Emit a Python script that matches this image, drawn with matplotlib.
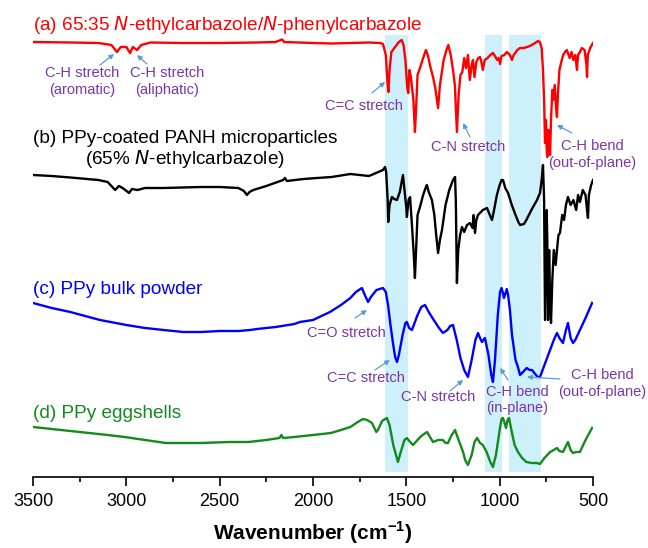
import matplotlib
matplotlib.use('Agg')
import matplotlib.pyplot as plt
from matplotlib.ticker import MultipleLocator
import numpy as np

plt.rcParams['font.family'] = ['Liberation Sans', 'DejaVu Sans']
plt.rcParams['mathtext.fontset'] = 'custom'
plt.rcParams['mathtext.rm'] = 'Liberation Sans'
plt.rcParams['mathtext.bf'] = 'Liberation Sans:bold'

# ---- spectra (wavenumber, offset intensity in a.u.) ----
wn_a = [3500, 3300, 3150, 3080, 3050, 3030, 3000, 2980, 2965, 2943, 2920, 2870, 2700, 2500, 2300,
        2200, 2165, 2155, 2000, 1900, 1800, 1700, 1640, 1625, 1610, 1600, 1596, 1590, 1580, 1560,
        1540, 1525, 1515, 1505, 1495, 1490, 1483, 1475, 1462, 1454, 1448, 1440, 1427, 1410, 1395,
        1385, 1370, 1357, 1345, 1330, 1320, 1300, 1285, 1275, 1262, 1250, 1240, 1229, 1220, 1210,
        1200, 1190, 1180, 1170, 1160, 1150, 1143, 1135, 1125, 1115, 1105, 1098, 1090, 1080, 1065,
        1050, 1036, 1025, 1014, 1005, 998, 990, 975, 961, 945, 934, 925, 905, 891, 870,
        838, 810, 795, 785, 775, 768, 762, 757, 752, 748, 745, 740, 735, 730, 725,
        718, 714, 705, 697, 693, 688, 680, 670, 660, 650, 640, 625, 615, 605, 595,
        586, 580, 570, 560, 545, 535, 532, 528, 515, 500]
y_a = [42, 42.5, 43, 45, 52, 47, 47, 53, 47, 50, 45, 42.5, 43, 43, 42.5,
       42, 39.5, 42, 43, 43.5, 43, 42.5, 43, 44, 55, 85, 92, 70, 52, 47,
       42, 40, 45, 60, 88, 93, 70, 78, 100, 132, 110, 75, 68, 58, 50,
       55, 68, 77, 88, 108, 85, 60, 50, 45, 55, 70, 85, 132, 95, 75,
       72, 58, 68, 55, 80, 65, 60, 77, 62, 58, 57, 62, 70, 60, 58,
       55, 53, 56, 60, 58, 64, 56, 55, 52, 55, 60, 55, 50, 48, 48,
       46, 43, 41, 42, 48, 70, 100, 143, 120, 150, 157, 130, 145, 155, 120,
       90, 100, 85, 110, 117, 95, 70, 62, 55, 52, 50, 58, 52, 60, 55,
       70, 55, 52, 48, 50, 65, 77, 55, 48, 43]

wn_b = [3500, 3400, 3300, 3150, 3100, 3060, 3040, 3020, 2985, 2970, 2940, 2900, 2800, 2700, 2600,
        2500, 2400, 2370, 2354, 2340, 2320, 2250, 2160, 2150, 2140, 2050, 1979, 1900, 1800, 1700,
        1650, 1625, 1614, 1608, 1600, 1597, 1590, 1577, 1565, 1550, 1535, 1518, 1510, 1500, 1497,
        1488, 1480, 1470, 1460, 1454, 1448, 1440, 1427, 1410, 1395, 1390, 1380, 1363, 1350, 1340,
        1330, 1320, 1309, 1290, 1270, 1250, 1239, 1235, 1229, 1222, 1212, 1202, 1190, 1175, 1159,
        1145, 1140, 1132, 1125, 1116, 1100, 1090, 1068, 1055, 1041, 1030, 1015, 1000, 990, 982,
        970, 955, 935, 915, 900, 891, 870, 857, 830, 800, 784, 775, 768, 762, 757,
        752, 748, 745, 741, 735, 730, 725, 718, 710, 700, 693, 685, 677, 665, 655,
        645, 634, 620, 605, 590, 580, 570, 555, 540, 532, 527, 522, 510, 500]
y_b = [175, 176, 177.5, 180, 182, 190, 186, 188, 193, 189, 190, 188, 188, 187.5, 187,
       187, 188, 191, 195, 192, 190, 186, 180, 178, 181, 179, 178, 177, 174, 176,
       172, 170, 167, 172, 200, 222, 205, 197, 199, 200, 192, 175, 190, 208, 217,
       200, 197, 225, 255, 278, 250, 215, 207, 195, 187, 185, 192, 200, 215, 235,
       253, 240, 230, 205, 190, 180, 177, 200, 283, 250, 235, 227, 232, 225, 223,
       228, 215, 233, 220, 215, 212, 210, 208, 214, 220, 210, 195, 185, 180, 180,
       188, 193, 205, 215, 222, 225, 224, 220, 210, 200, 193, 180, 165, 200, 320,
       260, 210, 240, 320, 250, 300, 323, 280, 250, 265, 250, 235, 233, 215, 220,
       205, 197, 205, 200, 210, 195, 202, 190, 195, 210, 218, 195, 185, 180]

wn_c = [3500, 3400, 3300, 3141, 3000, 2900, 2800, 2696, 2600, 2500, 2400, 2337, 2300, 2200, 2100,
        2070, 2000, 1909, 1850, 1800, 1770, 1738, 1720, 1705, 1690, 1660, 1625, 1610, 1598, 1585,
        1570, 1560, 1550, 1540, 1520, 1505, 1497, 1485, 1470, 1440, 1420, 1400, 1380, 1360, 1346,
        1325, 1304, 1280, 1265, 1250, 1230, 1210, 1190, 1170, 1150, 1130, 1116, 1105, 1095, 1079,
        1060, 1045, 1036, 1025, 1010, 998, 990, 984, 977, 970, 962, 955, 945, 934, 915,
        902, 891, 875, 855, 840, 827, 810, 795, 784, 760, 730, 710, 693, 680, 661,
        645, 634, 620, 607, 595, 570, 540, 505]
y_c = [303, 308, 312, 320, 325, 328, 330, 332, 332, 331, 331, 330, 329, 327, 324,
       322, 320, 312, 305, 298, 292, 288, 296, 302, 297, 290, 288, 292, 305, 325,
       345, 357, 362, 355, 335, 323, 322, 328, 330, 315, 307, 305, 312, 318, 322,
       328, 333, 330, 326, 325, 340, 358, 370, 377, 360, 340, 333, 338, 342, 338,
       355, 375, 382, 360, 315, 292, 288, 292, 298, 294, 289, 295, 310, 335, 360,
       367, 375, 372, 368, 370, 370, 374, 377, 377, 365, 350, 340, 333, 338, 343,
       330, 323, 338, 343, 340, 330, 318, 303]

wn_d = [3500, 3300, 3100, 3009, 2900, 2788, 2600, 2450, 2346, 2250, 2180, 2169, 2160, 2100, 2000,
        1904, 1850, 1800, 1760, 1732, 1710, 1684, 1661, 1652, 1630, 1604, 1590, 1570, 1545, 1530,
        1510, 1497, 1480, 1464, 1440, 1420, 1389, 1370, 1357, 1330, 1304, 1290, 1277, 1260, 1239,
        1220, 1196, 1185, 1170, 1150, 1135, 1121, 1105, 1090, 1070, 1050, 1036, 1020, 1000, 990,
        982, 966, 958, 950, 935, 920, 902, 880, 857, 830, 800, 784, 760, 730, 710,
        693, 680, 661, 645, 634, 620, 607, 590, 570, 540, 505]
y_d = [427, 431, 435, 437, 440, 443, 443, 442, 442, 440, 438, 435, 438, 437, 435,
       433, 430, 427, 422, 419, 420, 423, 432, 430, 421, 418, 425, 445, 462, 452,
       440, 438, 442, 445, 440, 436, 432, 438, 442, 440, 440, 443, 443, 436, 430,
       440, 452, 460, 465, 455, 442, 438, 443, 445, 452, 462, 467, 455, 430, 419,
       418, 428, 420, 418, 432, 445, 452, 458, 462, 463, 463, 464, 458, 452, 450,
       448, 451, 452, 446, 442, 450, 453, 452, 452, 440, 428]

# highlighted bands (cm-1)
bands = [(1615, 1493), (1079, 987), (950, 779)]

TOP = 476.7  # plot height in a.u.

fig = plt.figure(figsize=(6.48, 5.48), dpi=100)
ax = fig.add_axes([33 / 648, (548 - TOP) / 548, 560 / 648, TOP / 548])
ax.set_xlim(3500, 500)
ax.set_ylim(0, TOP)

for lo, hi in bands:
    ax.axvspan(lo, hi, ymin=4.7 / TOP, ymax=442 / TOP, color='#CDF0FA', lw=0, zorder=0)

series = [(wn_a, y_a, '#FF0000'), (wn_b, y_b, '#000000'),
          (wn_c, y_c, '#0000FF'), (wn_d, y_d, '#138A1E')]
for wn, yy, col in series:
    ax.plot(wn, TOP - np.array(yy), color=col, lw=1.7, zorder=2)

# sample labels
fs = 13.7
ax.text(3500, TOP - 25, '(a) 65:35 $\\it{N}$-ethylcarbazole/$\\it{N}$-phenylcarbazole',
        color='#FF0000', fontsize=fs, ha='left', va='center')
ax.text(3500, TOP - 150, '(b) PPy-coated PANH microparticles\n(65% $\\it{N}$-ethylcarbazole)',
        color='black', fontsize=fs, ha='left', va='center', multialignment='center', linespacing=1.1)
ax.text(3500, TOP - 290, '(c) PPy bulk powder', color='#0000FF', fontsize=fs, ha='left', va='center')
ax.text(3500, TOP - 413, '(d) PPy eggshells', color='#138A1E', fontsize=fs, ha='left', va='center')

# band annotations: (text, text x, text y, arrow tail, arrow head)
purple = '#7A35A8'
notes = [
    ('C-H stretch\n(aromatic)', 3238, 395, (3141, 411.7), (3066, 422.7)),
    ('C-H stretch\n(aliphatic)', 2782, 395, (2889, 412.7), (2943, 421.7)),
    ('C=C stretch', 1727, 370.7, (1684, 383.7), (1614, 394.7)),
    ('C-N stretch', 1170, 329.7, (1159, 339.7), (1196, 353.7)),
    ('C-H bend\n(out-of-plane)', 505, 322.2, (613, 343.7), (693, 351.7)),
    ('C=O stretch', 1823, 143.7, (1775, 158.7), (1711, 166.7)),
    ('C=C stretch', 1716, 98.7, (1668, 106.7), (1588, 116.7)),
    ('C-N stretch', 1330, 79.7, (1266, 85.7), (1196, 96.7)),
    ('C-H bend\n(in-plane)', 907, 76.7, (955, 96.7), (998, 108.7)),
    ('C-H bend\n(out-of-plane)', 452, 93.2, (677, 97.7), (854, 99.7)),
]
for txt, tx, ty, tail, head in notes:
    ax.text(tx, ty, txt, color=purple, fontsize=10.5, ha='center', va='center',
            linespacing=1.25, clip_on=False, zorder=4)
    ax.annotate('', xy=head, xytext=tail,
                arrowprops=dict(arrowstyle='-|>', color='#5B9BD5', lw=0.9,
                                mutation_scale=7, shrinkA=0, shrinkB=0), zorder=4)

# axes styling
for s in ['left', 'right', 'top']:
    ax.spines[s].set_visible(False)
ax.spines['bottom'].set_linewidth(1.2)
ax.set_yticks([])
ax.xaxis.set_major_locator(MultipleLocator(500))
ax.xaxis.set_minor_locator(MultipleLocator(250))
ax.tick_params(axis='x', which='major', length=6.5, width=1.2, labelsize=13, pad=5)
ax.tick_params(axis='x', which='minor', length=3.5, width=1.2)
ax.set_xlabel('Wavenumber (cm$^{\\mathbf{-1}}$)', fontsize=15, fontweight='bold', labelpad=7)

fig.savefig('out.png', dpi=100)
